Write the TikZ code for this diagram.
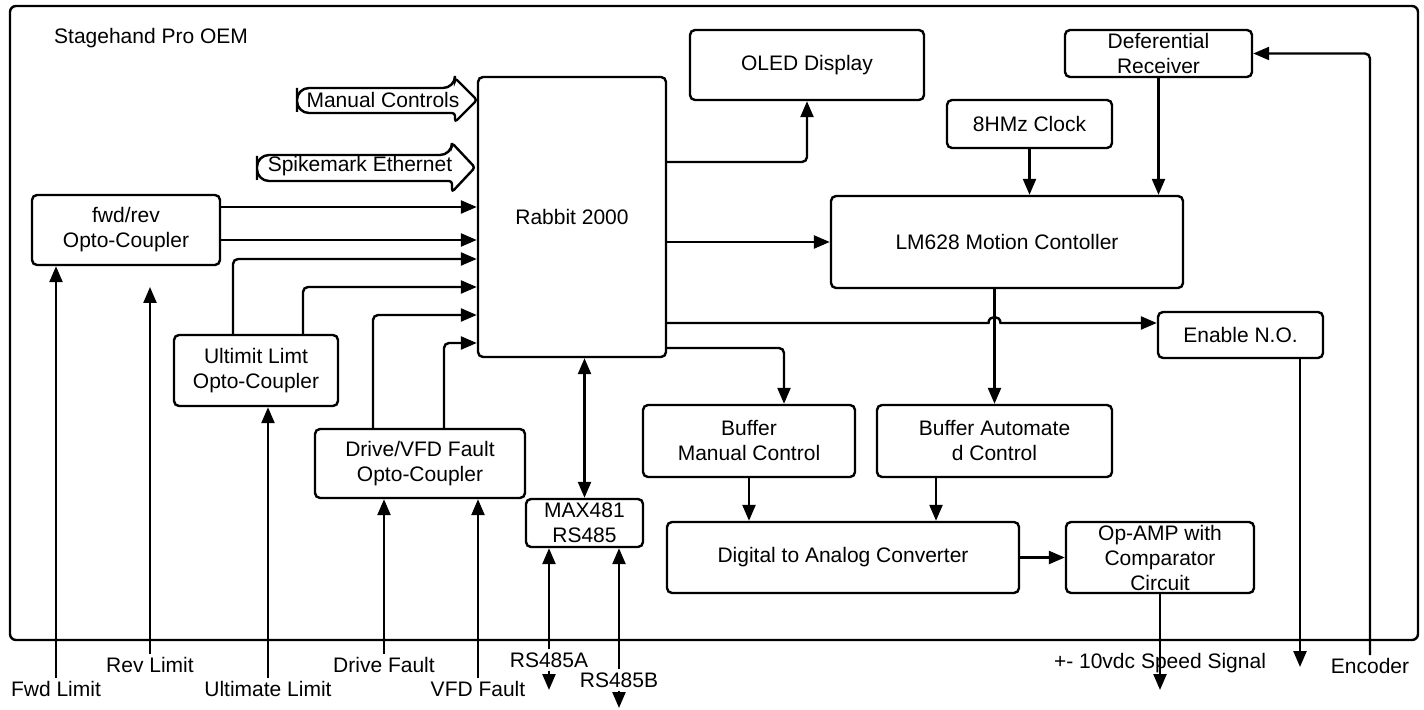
\documentclass[tikz,border=0pt]{standalone}
\usepackage{fontspec}
\setmainfont{Liberation Sans}
\usetikzlibrary{arrows.meta, positioning}

\begin{document}
\begin{tikzpicture}[x=0.5pt, y=-0.5pt, >={Triangle[length=8pt,width=6.5pt]},
  line width=1.2pt,
  font=\fontsize{10.5}{12.5}\selectfont,
  blk/.style={draw, rounded corners=2.5pt, align=center, inner sep=0pt},
  lbl/.style={inner sep=1pt},
  wire/.style={->, rounded corners=2.5pt}
]
  \useasboundingbox (0,0) rectangle (1424,710);

  % ======= 外框 =======
  \draw[rounded corners=3pt] (10,6) rectangle (1418,640);
  \node[anchor=west, inner sep=0pt] (oem) at (53,38) {Stagehand Pro OEM};

  % 粗箭头输入
  \node (manual) at (383,100) {Manual Controls};
  \draw (297,100) [rounded corners=6pt] -- (297,88) -- (455,88) [rounded corners=1.5pt] -- (455,78) -- (477,100) -- (455,122) -- (455,113) [rounded corners=6pt] -- (297,113) -- cycle;
  \node (spike) at (360,166) {Spikemark Ethernet};
  \draw (257,168) [rounded corners=6pt] -- (257,155) -- (452,155) [rounded corners=1.5pt] -- (452,143) -- (475,167.5) -- (452,192) -- (452,181) [rounded corners=6pt] -- (257,181) -- cycle;

  % ======= 模块 =======
  \node[blk, minimum width=94pt, minimum height=140pt] (rabbit) at (572,217) {Rabbit 2000};
  \node[blk, minimum width=117pt, minimum height=35pt] (oled) at (807,65) {OLED Display};
  \node[blk, minimum width=176pt, minimum height=46pt] (lm) at (1007,242) {LM628 Motion Contoller};
  \node[blk, minimum width=82.5pt, minimum height=24pt] (clock) at (1029.5,124) {8HMz Clock};
  \node[blk, minimum width=93.5pt, minimum height=23.5pt] (recv) at (1158.5,53.5) {Deferential\\Receiver};
  \node[blk, minimum width=94pt, minimum height=35pt] (fwdrev) at (126,230) {fwd/rev\\Opto-Coupler};
  \node[blk, minimum width=82pt, minimum height=35.5pt] (ultimit) at (256,370.5) {Ultimit Limt\\Opto-Coupler};
  \node[blk, minimum width=105pt, minimum height=34.5pt] (drive) at (420,463.5) {Drive/VFD Fault\\Opto-Coupler};
  \node[blk, minimum width=58.5pt, minimum height=24pt] (max) at (584.5,523) {MAX481\\RS485};
  \node[blk, minimum width=106pt, minimum height=36pt] (bufm) at (749,441) {Buffer\\Manual Control};
  \node[blk, minimum width=117.5pt, minimum height=36pt] (bufa) at (994.5,441) {Buffer Automate\\d Control};
  \node[blk, minimum width=176pt, minimum height=35.5pt] (dac) at (843,557.5) {Digital to Analog Converter};
  \node[blk, minimum width=94pt, minimum height=35.5pt] (opamp) at (1160,557.5) {Op-AMP with\\Comparator\\Circuit};
  \node[blk, minimum width=82.5pt, minimum height=23pt] (enable) at (1240.5,335) {Enable N.O.};

  % ======= 外部信号 =======
  \node[lbl] (fwdlbl) at (56,689) {Fwd Limit};
  \node[lbl] (revlbl) at (150,665) {Rev Limit};
  \node[lbl] (ultlbl) at (268,689) {Ultimate Limit};
  \node[lbl] (drvlbl) at (384,665) {Drive Fault};
  \node[lbl] (vfdlbl) at (478,689) {VFD Fault};
  \node[lbl] (rsalbl) at (549,660) {RS485A};
  \node[lbl] (rsblbl) at (619,680) {RS485B};
  \node[lbl] (spdlbl) at (1160,663) {+- 10vdc Speed Signal};
  \node[lbl] (enclbl) at (1370,666) {Encoder};
  \coordinate (revend) at (150,287);
  \coordinate (rsaend) at (549,690);
  \coordinate (rsbend) at (619,708);
  \coordinate (spdend) at (1160,690);
  \coordinate (enend) at (1300,667);

  \draw[->] (fwdlbl.north) -- (fwdlbl.north |- fwdrev.south);
  \draw[->] (revlbl.north) -- (revend);
  \draw[->] (ultlbl.north) -- (ultlbl.north |- ultimit.south);
  \draw[->] (drvlbl.north) -- (drvlbl.north |- drive.south);
  \draw[->] (vfdlbl.north) -- (vfdlbl.north |- drive.south);
  \draw[->] (rsalbl.north) -- (rsalbl.north |- max.south);
  \draw[->] (rsalbl.south) -- (rsaend);
  \draw[->] (rsblbl.north) -- (rsblbl.north |- max.south);
  \draw[->] (rsblbl.south) -- (rsbend);
  \draw[->] (opamp.south) -- (spdend);
  \draw[->] (enable.south -| enend) -- (enend);
  \draw[wire] (enclbl.north) |- (recv.east);

  % 输入到 Rabbit
  \draw[->] (fwdrev.east |- 0,207) -- (rabbit.west |- 0,207);
  \draw[->] (fwdrev.east |- 0,240) -- (rabbit.west |- 0,240);
  \draw[wire] (ultimit.north -| 233,0) |- (rabbit.west |- 0,259);
  \draw[wire] (ultimit.north -| 303,0) |- (rabbit.west |- 0,287);
  \draw[wire] (drive.north -| 373,0) |- (rabbit.west |- 0,315);
  \draw[wire] (drive.north -| 444,0) |- (rabbit.west |- 0,343);

  % Rabbit 输出
  \draw[wire] (rabbit.east |- 0,162) -| (oled.south);
  \draw[->] (rabbit.east |- lm.west) -- (lm.west);
  \draw[wire] (rabbit.east |- 0,348) -| (bufm.north -| 784,0);
  \draw[->] (rabbit.east |- 0,323) -- (988.5,323) .. controls (988.5,315) and (1000.5,315) .. (1000.5,323) -- (enable.west |- 0,323);
  \draw[<->] (max.north) -- (max.north |- rabbit.south);

  % 运动控制
  \draw[->] (clock.south) -- (clock.south |- lm.north);
  \draw[->] (recv.south) -- (recv.south |- lm.north);
  \draw[->] (lm.south -| bufa.north) -- (bufa.north);
  \draw[->] (bufm.south) -- (bufm.south |- dac.north);
  \draw[->] (bufa.south -| 936,0) -- (dac.north -| 936,0);
  \draw[->] (dac.east) -- (opamp.west);

\end{tikzpicture}
\end{document}
